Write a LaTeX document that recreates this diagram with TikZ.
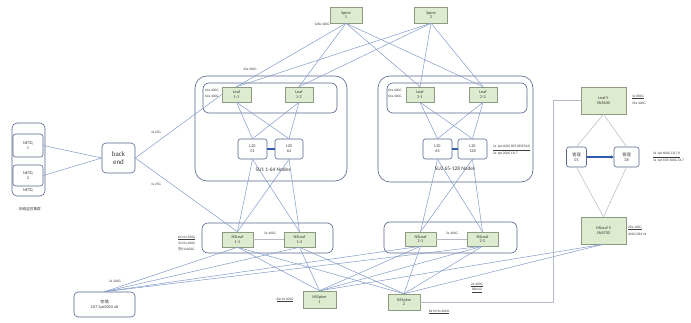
\documentclass[tikz,border=0pt]{standalone}
\usepackage{fontspec}
\setmainfont{Carlito}
\newfontfamily\cjk{Noto Sans CJK SC}
\usetikzlibrary{arrows.meta}
\definecolor{lnk}{RGB}{130,155,200}
\definecolor{grp}{RGB}{85,100,140}
\definecolor{leaffill}{RGB}{221,235,207}
\definecolor{leafdraw}{RGB}{140,155,130}
\definecolor{thickblue}{RGB}{50,90,170}
\definecolor{txt}{RGB}{60,60,60}
\definecolor{elb}{RGB}{180,186,198}
\tikzset{
  leafbox/.style={draw=leafdraw, fill=leaffill, line width=0.5pt, align=center, inner sep=0pt, text=txt, font=\fontsize{4.2}{4.8}\selectfont},
  whitebox/.style={draw=grp, fill=white, rounded corners=2.5pt, line width=0.6pt, align=center, inner sep=0pt, text=txt, font=\fontsize{4.2}{4.8}\selectfont},
  grpbox/.style={draw=grp, rounded corners=#1, line width=0.6pt},
  grpbox/.default=10pt,
  lnkline/.style={draw=lnk, line width=0.5pt},
  lbl/.style={font=\fontsize{3.5}{4}\selectfont, text=txt, inner sep=0pt},
}
\begin{document}
\begin{tikzpicture}[x=1pt,y=-1pt]
\useasboundingbox[fill=white] (0,0) rectangle (691,323);

% group frames
\draw[grpbox=12pt] (195,76) rectangle (347,181);
\draw[grpbox=6pt] (203,83) rectangle (337,113);
\draw[grpbox=12pt] (378,76) rectangle (533,182);
\draw[grpbox=6pt] (387,83) rectangle (527,113);
\draw[grpbox=6pt] (202,223) rectangle (333,253);
\draw[grpbox=6pt] (384,222) rectangle (517,253);
\draw[grpbox=5pt] (12,123) rectangle (45,196);

% spines
\node[leafbox, minimum width=32pt, minimum height=16pt] (sp1) at (346,15) {Spine\\1};
\node[leafbox, minimum width=33pt, minimum height=16pt] (sp2) at (431,15) {Spine\\2};

% leaves
\node[leafbox, minimum width=29pt, minimum height=15pt] (l11) at (236.5,94.5) {Leaf\\1-1};
\node[leafbox, minimum width=28pt, minimum height=15pt] (l12) at (299,94.5) {Leaf\\1-2};
\node[leafbox, minimum width=28pt, minimum height=15pt] (l21) at (420,94.5) {Leaf\\2-1};
\node[leafbox, minimum width=28pt, minimum height=15pt] (l22) at (483,94.5) {Leaf\\2-2};

% L20 nodes
\node[whitebox, minimum width=29pt, minimum height=20pt] (n01) at (252.5,149) {L20\\01};
\node[whitebox, minimum width=28pt, minimum height=20pt] (n64) at (289,149) {L20\\64};
\node[whitebox, minimum width=29pt, minimum height=20pt] (n65) at (437.5,149) {L20\\65};
\node[whitebox, minimum width=29pt, minimum height=20pt] (n128) at (472.5,149) {L20\\128};

% NS leaves
\node[leafbox, minimum width=31pt, minimum height=15pt] (ns11) at (237.5,239.5) {NSLeaf\\1-1};
\node[leafbox, minimum width=31pt, minimum height=15pt] (ns12) at (299.5,239.5) {NSLeaf\\1-2};
\node[leafbox, minimum width=31pt, minimum height=14pt] (ns21) at (420.5,239) {NSLeaf\\2-1};
\node[leafbox, minimum width=31pt, minimum height=14pt] (ns22) at (482.5,239) {NSLeaf\\2-2};

% NS spines
\node[leafbox, minimum width=33pt, minimum height=17pt] (nsp1) at (319.5,299.5) {NSSpine\\1};
\node[leafbox, minimum width=32pt, minimum height=16pt] (nsp2) at (404,302) {NSSpine\\2};

% right side
\node[leafbox, minimum width=45pt, minimum height=27pt] (leaf5) at (603.5,100.5) {Leaf 5\\SN5600};
\node[leafbox, minimum width=45pt, minimum height=27pt] (nsleaf5) at (603.5,230.5) {NSLeaf 5\\SN4700};
\node[whitebox, minimum width=20pt, minimum height=20pt] (m1) at (576.5,157) {{\cjk 管理}\\01};
\node[whitebox, minimum width=25pt, minimum height=20pt] (m2) at (626.5,157) {{\cjk 管理}\\38};

% left side
\node[whitebox, minimum width=30pt, minimum height=23pt] (q1) at (28,145.5) {NETQ\\1};
\node[whitebox, minimum width=30pt, minimum height=21pt] (q2) at (28,175.5) {NETQ\\2};
\node[lbl, font=\fontsize{4.2}{4.8}\selectfont] (qlbl) at (28,190.5) {NETQ};
\node[lbl, font=\fontsize{3.6}{4}\selectfont\cjk] (qcap) at (30,209) {网络监控集群};
\node[whitebox, rounded corners=4pt, minimum width=33pt, minimum height=30pt, font=\fontsize{7}{8}\selectfont] (be) at (118.5,158) {back\\end};
\node[whitebox, rounded corners=4pt, minimum width=61pt, minimum height=25pt] (sto) at (104.5,304.5) {{\cjk 存储}\\CX7 2pt200G x8};

% spine - leaf mesh
\foreach \s in {sp1,sp2}{
  \foreach \l in {l11,l12,l21,l22}{
    \draw[lnkline] (\s.south) -- (\l.north);
  }
}
% leaf - L20
\foreach \l in {l11,l12}{\foreach \n in {n01,n64}{\draw[lnkline] (\l.south) -- (\n.north);}}
\foreach \l in {l21,l22}{\foreach \n in {n65,n128}{\draw[lnkline] (\l.south) -- (\n.north);}}
% L20 - NS leaf
\foreach \n in {n01,n64}{\foreach \l in {ns11,ns12}{\draw[lnkline] (\n.south) -- (\l.north);}}
\foreach \n in {n65,n128}{\foreach \l in {ns21,ns22}{\draw[lnkline] (\n.south) -- (\l.north);}}
% NS leaf - NS spine
\foreach \l in {ns11,ns12,ns21,ns22}{\foreach \s in {nsp1,nsp2}{\draw[lnkline] (\l.south) -- (\s.north);}}
% storage
\foreach \l in {ns11,ns12,ns21,ns22}{\draw[lnkline] (sto.north) -- (\l.south);}
% NS leaf 5
\draw[lnkline] (nsleaf5.south) -- (nsp1.north);
\draw[lnkline] (nsleaf5.south) -- (nsp2.north);
% backend
\draw[lnkline] (q1.east) -- (be.west);
\draw[lnkline] (q2.east) -- (be.west);
\draw[lnkline] (be.east) -- (l11.west);
\draw[lnkline] (be.east) -- (ns11.north);
% thick links
\draw[thickblue, line width=1.6pt] (n01.east) -- (n64.west);
\draw[thickblue, line width=1.6pt] (n65.east) -- (n128.west);
\draw[draw=elb, line width=0.5pt] (ns11.east) -- (ns12.west);
\draw[draw=elb, line width=0.5pt] (ns21.east) -- (ns22.west);
% right diamond
\draw[draw=elb, line width=0.5pt] (leaf5.south) -- (m1.north);
\draw[draw=elb, line width=0.5pt] (leaf5.south) -- (m2.north);
\draw[draw=elb, line width=0.5pt] (m1.south) -- (nsleaf5.north);
\draw[draw=elb, line width=0.5pt] (m2.south) -- (nsleaf5.north);
\draw[-{Triangle[length=2.5pt,width=3pt]}, thickblue, line width=1.2pt] (m1.east) -- (m2.west);
% elbow from Leaf 5 to NSSpine 2
\coordinate (elb1) at (553,302);
\draw[draw=elb, line width=0.6pt] (leaf5.west) -| (elb1) -- (nsp2.east);

% labels
\node[lbl] at (322,24) {128x 400G};
\node[lbl] at (250,69) {32x 400G};
\node[lbl, anchor=west] at (205,90) {64x 400G};
\node[lbl, anchor=west] at (205,96) {64x 400G};
\node[lbl, anchor=west] at (388,90) {64x 400G};
\node[lbl, anchor=west] at (388,96) {64x 400G};
\node[lbl, font=\fontsize{5.4}{6}\selectfont] at (273,170) {SU1 1-64 Nodes};
\node[lbl, font=\fontsize{5.4}{6}\selectfont] at (455,169) {SU2 65-128 Nodes};
\node[lbl, anchor=west] at (493,148) {\underline{2x 1pt 400G BF3 (B3P312)}};
\node[lbl, anchor=west] at (493,153.5) {2x 1pt 200G CX-7};
\node[lbl, anchor=west] at (632,97) {\underline{1x 800G}};
\node[lbl, anchor=west] at (632,103) {56x 400G};
\node[lbl, anchor=west] at (653,155) {\underline{2x 1pt 400G CX-7 0}};
\node[lbl, anchor=west] at (653,161) {1x 1pt 100/200G CX-7};
\node[lbl, anchor=west] at (628,228) {\underline{28x 100G}};
\node[lbl, anchor=west] at (628,234) {400G DR4 x4};
\node[lbl] at (270,233) {2x 400G};
\node[lbl] at (452,233) {2x 400G};
\node[lbl, anchor=west] at (178,238) {\underline{64+2x 200G}};
\node[lbl, anchor=west] at (178,243.5) {32+2x 400G};
\node[lbl, anchor=west] at (178,249) {{\cjk 空}01x400G};
\node[lbl] at (115,281) {2x 200G};
\node[lbl] at (285,300) {\underline{64+2x 400G}};
\node[lbl] at (439,312) {\underline{64+2+2x 400G}};
\node[lbl] at (477,285) {\underline{2x 400G}};
\node[lbl] at (477,290.5) {\underline{DR4 x2}};
\node[lbl] at (156,132) {1x 25G};
\node[lbl] at (156,184) {1x 25G};
\end{tikzpicture}
\end{document}
